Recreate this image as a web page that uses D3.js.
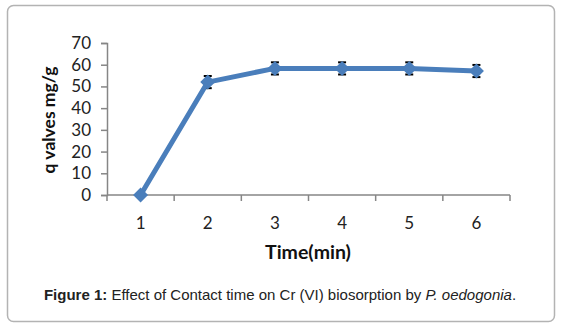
<!DOCTYPE html>
<html><head><meta charset="utf-8">
<script src="https://cdn.jsdelivr.net/npm/d3@7"></script>
<style>body{margin:0;background:#fff}svg{display:block}</style>
</head><body>
<svg id="c" width="562" height="328"></svg>
<script>
const categories = [1, 2, 3, 4, 5, 6];
const qValues = [0, 52, 58.3, 58.3, 58.3, 57.1];
const errors = [0, 2.8, 2.8, 2.8, 2.8, 2.8];
const yTicks = [0, 10, 20, 30, 40, 50, 60, 70];

const svg = d3.select("#c");
svg.append("rect").attr("x", 7.5).attr("y", 5.5).attr("width", 547).attr("height", 316)
  .attr("rx", 6).attr("fill", "#fff").attr("stroke", "#b3b3b3").attr("stroke-width", 1.5);

const x = d3.scaleBand().domain(categories).range([107, 510]);
const y = d3.scaleLinear().domain([0, 70]).range([195, 43]);
const axisCol = "#868686";
const tickFont = "Lato, 'Open Sans', sans-serif";

// y axis
const ya = svg.append("g").attr("transform", "translate(107,0)")
  .call(d3.axisLeft(y).tickValues(yTicks).tickSize(6).tickPadding(10));
ya.select(".domain").attr("stroke", axisCol).attr("stroke-width", 1.5);
ya.selectAll(".tick line").attr("stroke", axisCol).attr("stroke-width", 1.5);
ya.selectAll("text").attr("font-family", tickFont).attr("font-size", 17).attr("fill", "#222");

// x axis
const xa = svg.append("g").attr("transform", "translate(0,195)");
xa.append("line").attr("x1", 107).attr("x2", 510).attr("stroke", axisCol).attr("stroke-width", 1.5);
const bounds = categories.map(c => x(c)).concat([x.range()[1]]);
xa.selectAll("line.t").data(bounds).join("line").attr("class", "t")
  .attr("x1", d => d).attr("x2", d => d).attr("y1", 0).attr("y2", 6)
  .attr("stroke", axisCol).attr("stroke-width", 1.5);
xa.selectAll("text").data(categories).join("text")
  .attr("x", d => x(d) + x.bandwidth() / 2).attr("y", 34)
  .attr("text-anchor", "middle").attr("font-family", tickFont).attr("font-size", 17).attr("fill", "#222")
  .text(d => d);

// titles
svg.append("text").attr("x", 308).attr("y", 259).attr("text-anchor", "middle")
  .attr("font-family", tickFont).attr("font-weight", "bold").attr("font-size", 19.5).attr("fill", "#111")
  .text("Time(min)");
svg.append("text").attr("transform", "translate(55,120) rotate(-90)").attr("text-anchor", "middle")
  .attr("font-family", tickFont).attr("font-weight", "bold").attr("font-size", 17.5).attr("fill", "#111")
  .text("q valves mg/g");

const cx = d => x(d) + x.bandwidth() / 2;
const data = categories.map((c, i) => ({c, v: qValues[i], e: errors[i]}));

// error bars
const eb = svg.append("g").attr("stroke", "#000").attr("stroke-width", 2);
data.filter(d => d.e > 0).forEach(d => {
  eb.append("line").attr("x1", cx(d.c)).attr("x2", cx(d.c)).attr("y1", y(d.v + d.e)).attr("y2", y(d.v - d.e));
  [d.v + d.e, d.v - d.e].forEach(v => eb.append("line").attr("x1", cx(d.c) - 4).attr("x2", cx(d.c) + 4)
    .attr("y1", y(v)).attr("y2", y(v)));
});

// line
svg.append("path").datum(data)
  .attr("d", d3.line().x(d => cx(d.c)).y(d => y(d.v)))
  .attr("fill", "none").attr("stroke", "#4a7ebb").attr("stroke-width", 5).attr("stroke-linejoin", "round");

// markers
svg.selectAll("path.m").data(data).join("path").attr("class", "m")
  .attr("transform", d => `translate(${cx(d.c)},${y(d.v)})`)
  .attr("d", "M0,-7.5L7.5,0L0,7.5L-7.5,0Z").attr("fill", "#4a7ebb");

// caption
const cap = svg.append("text").attr("x", 280).attr("y", 300).attr("text-anchor", "middle")
  .attr("font-family", "'Liberation Sans', Arial, sans-serif").attr("font-size", 15).attr("fill", "#222");
cap.append("tspan").attr("font-weight", "bold").text("Figure 1:");
cap.append("tspan").text(" Effect of Contact time on Cr (VI) biosorption by ");
cap.append("tspan").attr("font-style", "italic").text("P. oedogonia");
cap.append("tspan").text(".");
</script>
</body></html>
